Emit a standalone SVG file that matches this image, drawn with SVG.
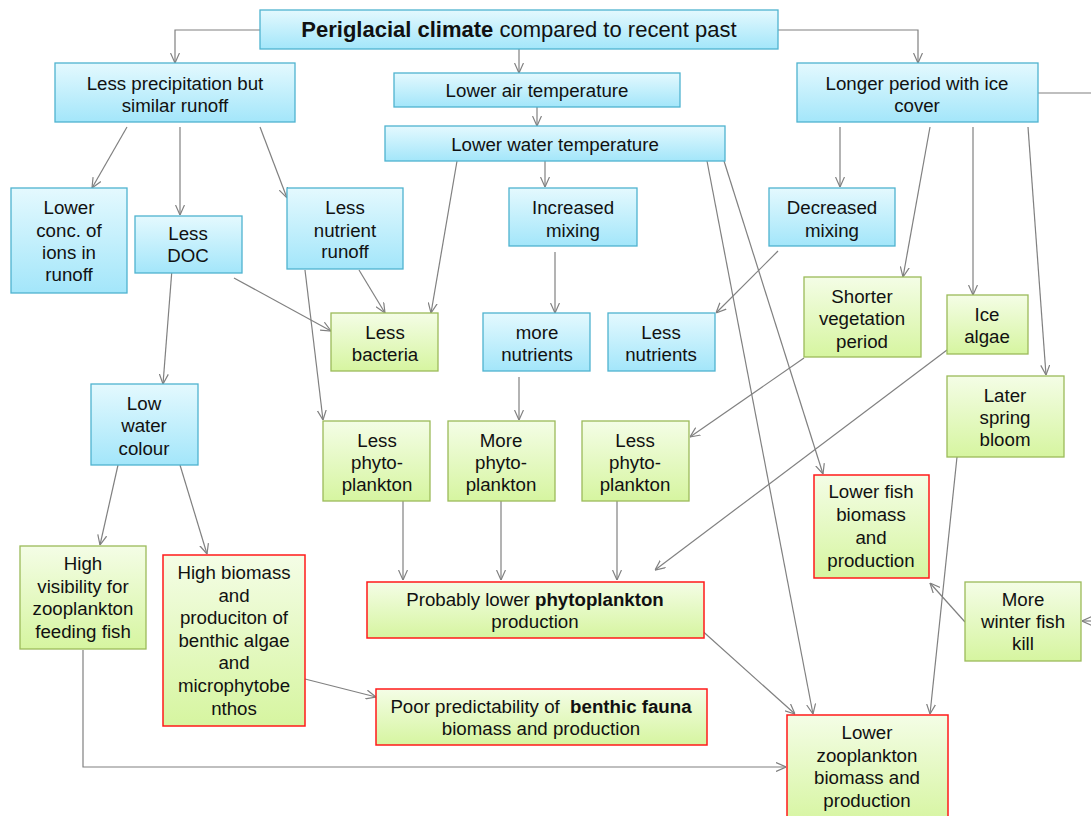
<svg xmlns="http://www.w3.org/2000/svg" width="1091" height="816" viewBox="0 0 1091 816">
<defs>
<linearGradient id="gb" x1="0" y1="0" x2="0" y2="1"><stop offset="0" stop-color="#e4f9fe"/><stop offset="1" stop-color="#a3e6fa"/></linearGradient>
<linearGradient id="gg" x1="0" y1="0" x2="0" y2="1"><stop offset="0" stop-color="#f4fde6"/><stop offset="1" stop-color="#d6f5a0"/></linearGradient>
<marker id="ar" viewBox="0 0 10 10" refX="10" refY="5" markerWidth="10" markerHeight="10" markerUnits="userSpaceOnUse" orient="auto"><path d="M0,0.5 L10,5 L0,9.5" fill="none" stroke="#808080" stroke-width="1.2"/></marker>
<style>
.b{fill:url(#gb);stroke:#4fb3cf;stroke-width:1.3}
.g{fill:url(#gg);stroke:#9bbb59;stroke-width:1.3}
.r{fill:url(#gg);stroke:#ff1a1a;stroke-width:1.5}
text{font-family:"Liberation Sans",Arial,sans-serif;font-size:18.7px;fill:#111;text-anchor:middle}
.t{font-size:22px}
.c line,.c polyline{stroke:#808080;stroke-width:1.2;fill:none;marker-end:url(#ar)}
.c .n{marker-end:none}
</style>
</defs>
<g class="c" id="connectors">
<polyline points="260,30 175,30 175,63"/>
<polyline points="778,30 918,30 918,63"/>
<line x1="519" y1="49" x2="519" y2="73"/>
<line x1="537" y1="107" x2="537" y2="126"/>
<line x1="127" y1="127" x2="92" y2="188"/>
<line x1="180" y1="127" x2="180" y2="215"/>
<line x1="260" y1="127" x2="287" y2="198"/>
<line x1="457" y1="161" x2="431" y2="313"/>
<line x1="545" y1="161" x2="545" y2="187"/>
<line x1="707" y1="161" x2="813" y2="714"/>
<line x1="724" y1="161" x2="823" y2="474"/>
<line x1="840" y1="127" x2="840" y2="187"/>
<line x1="930" y1="127" x2="903" y2="277"/>
<line x1="973" y1="127" x2="973" y2="295"/>
<line x1="1028" y1="127" x2="1046" y2="375"/>
<line class="n" x1="1038" y1="93" x2="1091" y2="93"/>
<line x1="234" y1="278" x2="331" y2="331"/>
<line x1="359" y1="270" x2="385" y2="313"/>
<line x1="555" y1="252" x2="555" y2="313"/>
<line x1="778" y1="251" x2="716" y2="313"/>
<line x1="172" y1="269" x2="163" y2="384"/>
<line x1="305" y1="270" x2="323" y2="420"/>
<line x1="519" y1="377" x2="519" y2="420"/>
<line x1="804" y1="358" x2="690" y2="437"/>
<line x1="947" y1="350" x2="655" y2="570"/>
<line x1="965" y1="622" x2="930" y2="583"/>
<line x1="1091" y1="621" x2="1082" y2="621"/>
<line x1="957" y1="457" x2="930" y2="714"/>
<line x1="118" y1="465" x2="100" y2="545"/>
<line x1="180" y1="465" x2="207" y2="554"/>
<line x1="305" y1="679" x2="376" y2="697"/>
<line x1="403" y1="501" x2="403" y2="580"/>
<line x1="501" y1="501" x2="501" y2="580"/>
<line x1="617" y1="501" x2="617" y2="580"/>
<line x1="698" y1="627" x2="795" y2="714"/>
<polyline points="83,650 83,767 786,767"/>
</g>
<g id="n-title"><rect class="b" x="260" y="10" width="518" height="39"/><text class="t" x="519" y="37"><tspan font-weight="bold">Periglacial climate</tspan> compared to recent past</text></g>
<g id="n-precip"><rect class="b" x="55" y="63" width="240" height="59"/><text x="175" y="90">Less precipitation but</text><text x="175" y="112">similar runoff</text></g>
<g id="n-air"><rect class="b" x="394" y="73" width="286" height="34"/><text x="537" y="97">Lower air temperature</text></g>
<g id="n-water"><rect class="b" x="385" y="126" width="340" height="35"/><text x="555" y="151">Lower water temperature</text></g>
<g id="n-ice"><rect class="b" x="797" y="63" width="241" height="59"/><text x="917" y="90">Longer period with ice</text><text x="917" y="112">cover</text></g>
<g id="n-ions"><rect class="b" x="11" y="188" width="116" height="105"/><text x="69" y="214">Lower</text><text x="69" y="237">conc. of</text><text x="69" y="259">ions in</text><text x="69" y="281">runoff</text></g>
<g id="n-doc"><rect class="b" x="135" y="216" width="107" height="57"/><text x="188" y="240">Less</text><text x="188" y="262">DOC</text></g>
<g id="n-nrunoff"><rect class="b" x="287" y="188" width="116" height="81"/><text x="345" y="214">Less</text><text x="345" y="237">nutrient</text><text x="345" y="258">runoff</text></g>
<g id="n-incmix"><rect class="b" x="509" y="188" width="128" height="58"/><text x="573" y="214">Increased</text><text x="573" y="237">mixing</text></g>
<g id="n-decmix"><rect class="b" x="769" y="188" width="126" height="58"/><text x="832" y="214">Decreased</text><text x="832" y="237">mixing</text></g>
<g id="n-bact"><rect class="g" x="331" y="313" width="107" height="58"/><text x="385" y="339">Less</text><text x="385" y="361">bacteria</text></g>
<g id="n-morenut"><rect class="b" x="483" y="313" width="107" height="58"/><text x="537" y="339">more</text><text x="537" y="361">nutrients</text></g>
<g id="n-lessnut"><rect class="b" x="608" y="313" width="107" height="58"/><text x="661" y="339">Less</text><text x="661" y="361">nutrients</text></g>
<g id="n-veg"><rect class="g" x="804" y="277" width="117" height="80"/><text x="862" y="303">Shorter</text><text x="862" y="325">vegetation</text><text x="862" y="348">period</text></g>
<g id="n-icealgae"><rect class="g" x="947" y="295" width="81" height="59"/><text x="987" y="321">Ice</text><text x="987" y="343">algae</text></g>
<g id="n-colour"><rect class="b" x="91" y="384" width="107" height="81"/><text x="144" y="410">Low</text><text x="144" y="432">water</text><text x="144" y="455">colour</text></g>
<g id="n-phyto1"><rect class="g" x="323" y="421" width="107" height="80"/><text x="377" y="447">Less</text><text x="377" y="469">phyto-</text><text x="377" y="491">plankton</text></g>
<g id="n-phyto2"><rect class="g" x="448" y="421" width="107" height="80"/><text x="501" y="447">More</text><text x="501" y="469">phyto-</text><text x="501" y="491">plankton</text></g>
<g id="n-phyto3"><rect class="g" x="582" y="421" width="107" height="80"/><text x="635" y="447">Less</text><text x="635" y="469">phyto-</text><text x="635" y="491">plankton</text></g>
<g id="n-spring"><rect class="g" x="947" y="376" width="117" height="81"/><text x="1005" y="402">Later</text><text x="1005" y="424">spring</text><text x="1005" y="446">bloom</text></g>
<g id="n-fish"><rect class="r" x="814" y="475" width="115" height="103"/><text x="871" y="498">Lower fish</text><text x="871" y="521">biomass</text><text x="871" y="544">and</text><text x="871" y="567">production</text></g>
<g id="n-kill"><rect class="g" x="965" y="582" width="116" height="79"/><text x="1023" y="606">More</text><text x="1023" y="628">winter fish</text><text x="1023" y="650">kill</text></g>
<g id="n-vis"><rect class="g" x="20" y="546" width="126" height="103"/><text x="83" y="570">High</text><text x="83" y="593">visibility for</text><text x="83" y="615">zooplankton</text><text x="83" y="638">feeding fish</text></g>
<g id="n-benthic"><rect class="r" x="163" y="555" width="142" height="171"/><text x="234" y="579">High biomass</text><text x="234" y="602">and</text><text x="234" y="624">produciton of</text><text x="234" y="647">benthic algae</text><text x="234" y="669">and</text><text x="234" y="692">microphytobe</text><text x="234" y="715">nthos</text></g>
<g id="n-prob"><rect class="r" x="367" y="582" width="337" height="56"/><text x="535" y="606">Probably lower <tspan font-weight="bold">phytoplankton</tspan></text><text x="535" y="628">production</text></g>
<g id="n-poor"><rect class="r" x="376" y="689" width="331" height="56"/><text x="541" y="713" xml:space="preserve">Poor predictability of  <tspan font-weight="bold">benthic fauna</tspan></text><text x="541" y="735">biomass and production</text></g>
<g id="n-zoo"><rect class="r" x="787" y="715" width="161" height="110"/><text x="867" y="739">Lower</text><text x="867" y="762">zooplankton</text><text x="867" y="784">biomass and</text><text x="867" y="807">production</text></g>
</svg>
